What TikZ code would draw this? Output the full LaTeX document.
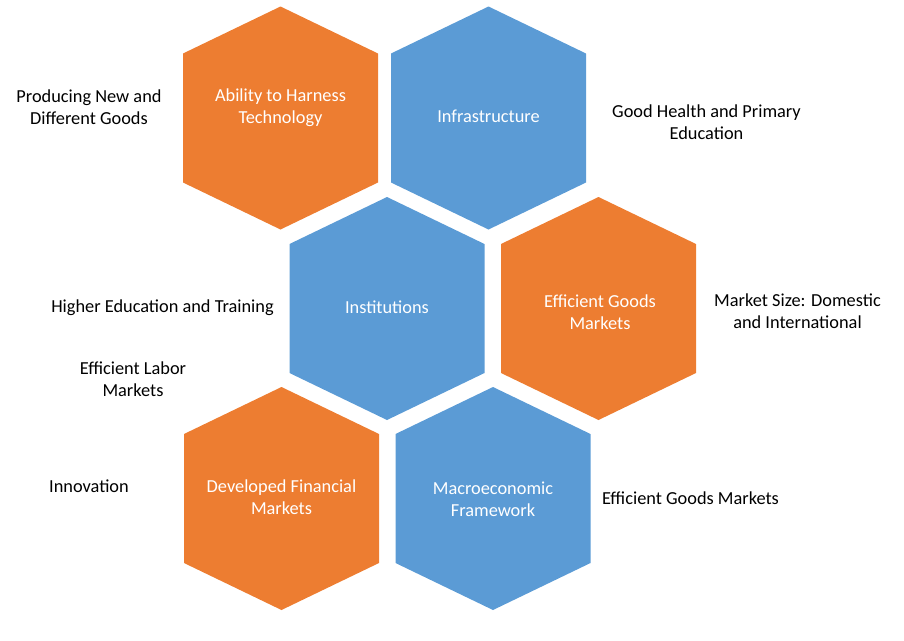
\documentclass[tikz,border=0pt]{standalone}
\usepackage{fontspec}
\setmainfont{Carlito}
\definecolor{hexorange}{RGB}{237,125,49}
\definecolor{hexblue}{RGB}{91,155,213}
\tikzset{
	hexcell/.style = {inner sep = 0pt, align = center, text = white},
	sidelbl/.style = {inner sep = 0pt, align = center, text = black}
}
\begin{document}
\begin{tikzpicture}[x = .75pt, y = -.75pt, font = \fontsize{13.75}{16.3}\selectfont]
	\useasboundingbox (0,0) rectangle (904,640);
	%	hexagons: half width 97.5, half height 111.5, shoulder 64.5
	\foreach \col/\cx/\cy in {hexorange/280.5/118, hexblue/488.5/118, hexblue/387/308.5, hexorange/598.5/308.5, hexorange/281.5/498.5, hexblue/493/498.5}
	{
		\fill[\col] (\cx,\cy) ++(0,-111.5) -- ++(97.5,47) -- ++(0,129) -- ++(-97.5,47) -- ++(-97.5,-47) -- ++(0,-129) -- cycle;
	}
	
	\node[hexcell] (ability) at (280.5,107.5) {Ability to Harness\\Technology};
	\node[hexcell] (infra) at (488.5,116.5) {Infrastructure};
	\node[hexcell] (inst) at (387,307.5) {Institutions};
	\node[hexcell] (goods) at (600,312) {Efficient Goods\\Markets};
	\node[hexcell] (finance) at (281.5,497) {Developed Financial\\Markets};
	\node[hexcell] (macro) at (493,499) {Macroeconomic\\Framework};
	
	\node[sidelbl] (producing) at (89,107.5) {Producing New and\\Different Goods};
	\node[sidelbl] (health) at (706.5,122.5) {Good Health and Primary\\Education};
	\node[sidelbl] (higher) at (162.5,307.5) {Higher Education and Training};
	\node[sidelbl] (size) at (797.5,311.5) {Market Size: Domestic\\and International};
	\node[sidelbl] (labor) at (133,379) {Efficient Labor\\Markets};
	\node[sidelbl] (innov) at (89,486.5) {Innovation};
	\node[sidelbl] (egm) at (690.5,498.5) {Efficient Goods Markets};
\end{tikzpicture}
\end{document}
